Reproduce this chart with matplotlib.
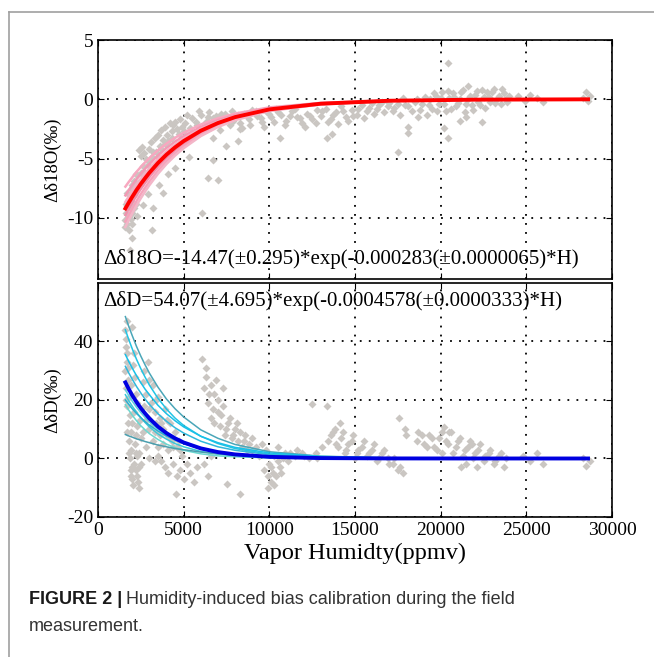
import numpy as np
from matplotlib import pyplot as plt
from matplotlib.lines import Line2D

plt.rcParams['axes.unicode_minus'] = False

# ---- data ----
# top panel: scatter of Delta d18O vs humidity
o18_h = [1600, 1600, 1650, 1650, 1700, 1700, 1750, 1800, 1800, 1850, 1900, 1900, 1950, 2000, 2000,
         2100, 2100, 2200, 2200, 2300, 2300, 2600, 2900,
         2400, 2500, 2550, 2600, 2700, 2800, 2900, 3000, 3100, 3150, 3300, 3400, 3500, 3600, 3700,
         3800, 3900, 4000, 4200, 4300, 4500, 4600, 4800, 4900, 5100,
         1960, 1870, 3130, 3230, 6050, 3800, 3550, 4490, 6720, 6420, 7000, 6720, 7500, 8180, 8290,
         10600, 4100, 5300,
         5500, 5800, 6000, 6300, 6500, 6700, 7000, 7200, 7500, 7800, 8000, 8300, 8500, 8800, 9000,
         9300, 9600, 9800, 10100, 10400, 10700, 11000, 11300, 11600, 11900, 12200, 12500, 12800,
         13000, 13300, 13600, 13900, 14200, 14500, 14800, 15100, 15400, 15700, 16000, 16300, 16600,
         16900, 17200, 17500, 17800, 18100, 18500, 18800, 19100, 19300, 19600, 19800, 20000, 20200,
         20400, 20600, 20800, 21000, 21200, 21400, 21600, 21800, 22000, 22200, 22400, 22600, 22800,
         23000, 23200, 23400, 23600, 23800, 24000,
         20400, 21600, 17500, 18100, 18100, 20400, 20200, 18700, 21100, 21500, 22400, 13650, 13360,
         24500, 24900, 25200, 25600, 26000, 28300, 28500, 28600, 28700,
         5200, 5400, 5700, 5900, 6200, 6400, 6600, 6900, 7100, 7400, 7700, 7900, 8200, 8400, 8700,
         8900, 9200, 9500, 9700, 10000, 10300, 10500, 10900, 11200, 11500, 11800, 12100, 12400,
         12700, 13100,
         13400, 13700, 14000, 14300, 14600, 14900, 15200, 15500, 15800, 16100, 16400, 16700, 17000,
         17300, 17600, 17900, 18300, 18600, 18900, 19200,
         19400, 19500, 19700, 19900, 20100, 20300, 20500, 20700, 20900, 21100, 21300, 21500, 21700,
         21900, 22100, 22300, 22500, 22700, 22900, 23100, 23300, 23500, 23700, 23900,
         1700, 1800, 1900, 2000, 2100, 2200, 2400, 2500, 2600, 2700, 2800, 3000, 3200, 3300, 3500,
         3700, 3900, 4100, 4300, 4400, 4700, 5000]
o18_v = [-10.8, -10.2, -9.6, -8.8, -10.5, -7.9, -9.9, -8.4, -11.0, -9.2, -7.6, -10.1, -8.9, -7.2, -9.6,
         -8.1, -6.9, -7.5, -8.8, -6.4, -9.8, -8.9, -8.0,
         -4.3, -4.8, -4.0, -5.6, -6.1, -5.0, -5.5, -4.2, -3.6, -4.9, -3.3, -4.4, -3.0, -3.9, -2.6,
         -3.4, -2.3, -3.0, -2.0, -2.7, -1.9, -2.5, -1.7, -2.3, -2.0,
         -11.7, -12.7, -11.0, -9.2, -9.6, -7.9, -7.2, -5.8, -5.1, -6.6, -6.8, -3.3, -3.9, -3.5, -2.5,
         -3.3, -6.3, -4.9,
         -1.6, -2.2, -1.3, -1.9, -1.1, -1.6, -2.1, -1.2, -1.7, -1.0, -1.5, -2.0, -1.2, -1.7, -0.9,
         -1.4, -1.9, -1.0, -1.5, -0.8, -1.3, -1.8, -1.0, -1.5, -2.0, -1.2, -1.7, -0.9,
         -1.4, -0.8, -1.7, -1.1, -0.6, -1.5, -0.9, -1.3, -0.5, -1.0, -0.3, -0.8, -0.2,
         -0.6, -1.0, -0.4, 0.1, -0.6, -0.2, -0.9, 0.2, -0.5, 0.5, -1.0, 0.1, -0.4,
         0.7, -0.8, 0.2, -0.3, 0.6, -1.1, 0.0, -0.5, 0.4, -0.2, 0.8, -0.7, 0.2,
         0.6, -0.3, 0.3, 0.9, 0.0, 0.3,
         3.1, 1.1, -4.4, -2.3, -2.8, -3.3, -2.4, -1.5, -1.8, -1.5, -1.9, -2.9, -3.3,
         0.3, -0.1, 0.4, 0.1, -0.2, 0.1, 0.6, -0.1, 0.3,
         -1.3, -2.4, -1.9, -1.0, -2.5, -1.5, -2.3, -1.4, -2.6, -1.2, -2.2, -1.8, -1.3, -2.4, -1.4,
         -2.2, -1.0, -1.6, -2.3, -1.2, -1.9, -1.1, -2.2, -1.4, -0.8, -1.6, -2.3, -1.4,
         -2.0, -1.0,
         -1.9, -1.3, -2.1, -1.0, -1.8, -1.4, -0.8, -1.6, -0.7, -1.2, -0.5, -1.1, -0.3,
         -0.7, -1.3, -0.5, -1.0, 0.0, -0.4, -1.3,
         0.0, -0.8, 0.3, -0.4, 0.6, -1.0, 0.1, 0.5, -0.6, 0.0, 0.8, -0.4, 0.3,
         -0.9, 0.7, -0.5, 0.2, 0.6, -0.2, 0.9, 0.0, -0.4, 0.5, -0.2,
         -9.0, -9.8, -8.6, -10.5, -9.2, -6.3, -7.0, -6.2, -6.8, -4.5, -6.5, -5.2, -4.4, -5.5, -4.9,
         -4.2, -3.8, -3.5, -3.3, -2.2, -2.9, -2.7]

# bottom panel: scatter of Delta dD vs humidity
dd_h = [1600, 1650, 1700, 1600, 1750, 1650, 1800, 1700, 1850, 1750, 1900, 1800, 1950, 1850, 2000,
        1900, 2050, 2000, 2100, 2150, 2200, 2100, 2250, 2150, 2300, 2200, 2350, 2400, 2300, 2450,
        2500, 2400, 2500,
        2700, 2900, 3000, 3200, 2800, 3100, 3300, 3500, 3400, 3600, 3800, 3900, 4000, 4200, 4300,
        4500, 4600, 4800, 3000, 3200, 3500, 2900,
        3700, 3900, 4100, 4400, 4600, 4800, 5000, 5200, 5400, 5600, 5800, 4570, 6200, 6400, 6600,
        6100, 6300, 6200, 6500, 6400, 6700, 6600, 6800, 7000, 7200, 7100, 7400, 7600, 7800, 8000,
        8200, 8400, 8600, 8800, 9000, 7300, 6900, 7510, 8280,
        9800, 10000, 10200, 10100, 10400, 10600, 10300, 10800, 10500, 9900, 11200, 11600, 12000,
        12470, 13340, 12800,
        14120, 13830, 13600, 13900, 14200, 14500, 14800, 15100, 15400, 15700, 16000, 16300, 16600,
        16900, 17200, 17500, 17800, 17560, 17900, 18000,
        18600, 18900, 19200, 19500, 19800, 20100, 20200, 20400, 20700, 21000, 21300, 21600, 21900,
        22200, 22500, 22800, 23100, 23400, 23700, 20500, 21200, 21800,
        24800, 25200, 25600, 26000, 28300, 28500, 28700,
        1650, 1700, 1750, 1650, 1700, 1800, 1900, 2000, 2100, 2200, 2300, 2400, 2200, 2000, 1900,
        2050, 1700,
        2600, 2700, 2800, 3000, 3100, 3300, 3400, 3600, 3700, 3800, 4000, 4100, 4200, 4400, 4700,
        4900, 2600, 2800, 3000, 3300, 3500,
        6300, 6600, 6800, 7000, 7300, 7500, 7700, 7900, 8100, 8300, 8500, 8700, 9000, 9200, 9400,
        9600,
        9700, 9900, 10100, 10300, 10500, 10700, 10900, 11100,
        11500, 11900, 12300, 12700, 13100, 13400, 13700, 14000, 14300, 14600, 14900, 15200, 15500,
        15800, 16100, 16400, 16700, 17000, 17300, 17600, 14400, 15000,
        18700, 19000, 19300, 19600, 19900, 20100, 20300, 20600, 20900, 21100, 21400, 21700, 22000,
        22300, 22600, 22900, 23200, 23500, 23800, 21500, 22100]
dd_v = [44, 38, 33, 30, 27, 24, 21, 18, 15, 12, 9, 6, 3, 0, -3,
        -6, -9, 45, 36, 28, 22, 16, 11, 5, 1, -4, -8, -10, 19, 13,
        7, 2, -2,
        30, 33, 27, 25, 22, 19, 16, 21, 12, 14, 10, 17, 8, 12, 6,
        9, 4, 3, 10, 6, 4, 14,
        -1, -3, -5, -2, -6, -4, -7, -2, -5, -8, -3, -12.3, -2, -6, 1,
        34, 28, 24, 22, 19, 17, 14, 12, 20, 15, 11, 8, 12, 7, 10,
        6, 4, 8, 5, 3, 24, 27, -8.7, -12,
        3, -2, -5, -8, -6, -3, 1, 0, 4, -10, 2, 3, 1,
        18.7, 18, 0,
        12.3, 10, 8, 5, 7, 3, 6, 2, 4, 1, 3, -1, 2,
        0, -2, -4, -5, 13.9, 10, 8,
        6, 8, 4, 7, 3, 9, 10.6, 5, 2, 6, 1, 4, 0,
        3, -1, 2, -2, 1, -3, 9.2, -3, 5,
        1, -1, 2, -2, 0, -2.5, -1,
        41, 36, 31, 20, 9, 2, -4, -7, -2, 8, -6, -3, 2, 12, 25,
        32, 47,
        26, 18, 13, 17, 11, 9, 20, 8, 12, 5, 13, 3, 7, 4, 6,
        1, 9, 4, 0, -1, 1,
        31, 25, 22, 16, 18, 10, 14, 8, 12, 9, 6, 3, 7, 4, 1,
        5,
        -4, -6, -3, -9, -1, -5, 2, -1,
        1, 2, 0, 2, 4, 6, 9, 4, 9, 5, 8, 3, 6,
        2, 5, 0, 3, -2, 0, -3, 2, 0,
        9, 5, 8, 4, 7, 2, 6, 9, 4, 7, 3, 6, 2,
        5, 1, 3, -1, 2, 0, -2, -3]

# fitted curves (main fit and the ensemble of fits)
fit_h = [1600, 1800, 2000, 2250, 2500, 2750, 3000, 3500, 4000, 4500, 5000, 6000, 7000, 8000,
         10000, 13000, 17000]
main_h = fit_h + [22000, 28600]
o18_fit = [-9.20, -8.70, -8.22, -7.65, -7.13, -6.65, -6.19, -5.37, -4.66, -4.05, -3.52, -2.65,
           -2.00, -1.50, -0.85, -0.37, -0.12, -0.03, 0.0]
o18_ens = [
    [-7.36, -6.96, -6.58, -6.12, -5.70, -5.32, -4.95, -4.30, -3.73, -3.24, -2.82, -2.12, -1.60, -1.20, -0.68, -0.30, -0.10],
    [-8.10, -7.66, -7.23, -6.73, -6.27, -5.85, -5.45, -4.73, -4.10, -3.56, -3.10, -2.33, -1.76, -1.32, -0.75, -0.33, -0.11],
    [-8.65, -8.18, -7.73, -7.19, -6.70, -6.25, -5.82, -5.05, -4.38, -3.81, -3.31, -2.49, -1.88, -1.41, -0.80, -0.35, -0.11],
    [-9.75, -9.22, -8.71, -8.11, -7.56, -7.05, -6.56, -5.69, -4.94, -4.29, -3.73, -2.81, -2.12, -1.59, -0.90, -0.39, -0.13],
    [-10.30, -9.74, -9.21, -8.57, -7.99, -7.45, -6.93, -6.01, -5.22, -4.54, -3.94, -2.97, -2.24, -1.68, -0.95, -0.41, -0.13],
    [-10.76, -10.18, -9.62, -8.95, -8.34, -7.78, -7.24, -6.28, -5.45, -4.74, -4.12, -3.10, -2.34, -1.76, -0.99, -0.43, -0.14],
]
dd_fit = [26.0, 23.7, 21.6, 19.3, 17.2, 15.4, 13.7, 10.9, 8.66, 6.89, 5.47, 3.46, 2.19, 1.39,
          0.56, 0.14, 0.02, 0.0, 0.0]
dd_ens = [
    [48.5, 45.1, 42.0, 38.3, 35.0, 32.0, 29.2, 24.4, 20.3, 17.0, 14.2, 9.8, 6.9, 4.8, 2.3, 0.8, 0.2],
    [44.0, 40.6, 37.5, 33.9, 30.7, 27.8, 25.1, 20.6, 16.9, 13.8, 11.3, 7.6, 5.1, 3.4, 1.5, 0.5, 0.1],
    [35.5, 33.1, 30.9, 28.3, 25.9, 23.7, 21.8, 18.2, 15.3, 12.9, 10.8, 7.6, 5.4, 3.8, 1.9, 0.7, 0.2],
    [31.5, 29.2, 27.1, 24.6, 22.4, 20.3, 18.5, 15.3, 12.7, 10.5, 8.7, 5.9, 4.0, 2.8, 1.3, 0.4, 0.1],
    [23.5, 21.5, 19.6, 17.5, 15.7, 14.0, 12.5, 10.0, 8.0, 6.4, 5.1, 3.2, 2.1, 1.3, 0.5, 0.1, 0.0],
    [21.8, 19.7, 17.9, 15.8, 13.9, 12.3, 10.8, 8.4, 6.6, 5.1, 4.0, 2.4, 1.5, 0.9, 0.3, 0.1, 0.0],
    [20.0, 18.5, 17.0, 15.4, 14.0, 12.6, 11.4, 9.4, 7.7, 6.3, 5.1, 3.4, 2.3, 1.5, 0.7, 0.2, 0.0],
    [18.4, 16.5, 14.8, 12.9, 11.2, 9.8, 8.5, 6.5, 4.9, 3.7, 2.8, 1.6, 0.9, 0.6, 0.2, 0.0, 0.0],
    [8.2, 7.7, 7.3, 6.7, 6.3, 5.8, 5.4, 4.6, 4.0, 3.4, 3.0, 2.2, 1.6, 1.2, 0.7, 0.3, 0.1],
]
o18_ens_colors = ['#f7a8c0', '#f29ab5', '#f5b0c4', '#ef92ae', '#f6a2bb', '#f3b6c8']
dd_ens_colors = ['#4aa6b8', '#22c4e4', '#18c0e8', '#30b8dc', '#5ed0e0', '#3cc8d8',
                 '#2ab0d0', '#6ad8d0', '#4a9eae']

o18_text = '\u0394\u03b418O=-14.47(\u00b10.295)*exp(-0.000283(\u00b10.0000065)*H)'
dd_text = '\u0394\u03b4D=54.07(\u00b14.695)*exp(-0.0004578(\u00b10.0000333)*H)'

serif = ['Liberation Serif', 'DejaVu Serif']
pt_grey = '#cac6c2'


def style_ax(ax, ylim, yticks):
    ax.set_xlim(0, 30000)
    ax.set_ylim(*ylim)
    ax.set_xticks([0, 5000, 10000, 15000, 20000, 25000, 30000])
    ax.set_yticks(yticks)
    ax.grid(True, color='black', linestyle=(0, (1, 4)), linewidth=1.3)
    ax.tick_params(direction='in', length=4, top=True, right=True, labelsize=14)
    for lab in ax.get_xticklabels() + ax.get_yticklabels():
        lab.set_family(serif)
    for sp in ax.spines.values():
        sp.set_linewidth(1.2)


fig = plt.figure(figsize=(6.54, 6.57), dpi=100)

# frame lines around the figure area
fig.add_artist(Line2D([0.0138, 1.0], [0.9817, 0.9817], color='#a0a0a0', lw=1.2))
fig.add_artist(Line2D([0.0138, 0.0138], [0.0, 0.9817], color='#a0a0a0', lw=1.2))

ax1 = fig.add_axes([0.1498, 0.5753, 0.786, 0.3638])
ax1.plot(o18_h, o18_v, 'D', ms=4, color=pt_grey, mec='none', zorder=2)
for vals, c in zip(o18_ens, o18_ens_colors):
    ax1.plot(fit_h, vals, color=c, lw=1.8, zorder=3)
ax1.plot(main_h, o18_fit, color='#ff0000', lw=2.8, zorder=4)
style_ax(ax1, (-15.15, 5), [-10, -5, 0, 5])
ax1.set_xticklabels([])
ax1.set_ylabel('\u0394\u03b418O(\u2030)', fontsize=13.5, family=serif, labelpad=4)
ax1.text(0.01, 0.04, o18_text, transform=ax1.transAxes, fontsize=15, family=serif,
         va='bottom', ha='left', zorder=6)

ax2 = fig.add_axes([0.1498, 0.2131, 0.786, 0.3562])
ax2.plot(dd_h, dd_v, 'D', ms=4, color=pt_grey, mec='none', zorder=2)
for vals, c in zip(dd_ens, dd_ens_colors):
    ax2.plot(fit_h, vals, color=c, lw=1.1, zorder=3)
ax2.plot(main_h, dd_fit, color='#0000e0', lw=2.8, zorder=4)
style_ax(ax2, (-20, 60), [-20, 0, 20, 40])
ax2.set_xlabel('Vapor Humidty(ppmv)', fontsize=17.5, family=serif, labelpad=3)
ax2.set_ylabel('\u0394\u03b4D(\u2030)', fontsize=13.5, family=serif, labelpad=4)
ax2.text(0.01, 0.965, dd_text, transform=ax2.transAxes, fontsize=15, family=serif,
         va='top', ha='left', zorder=6)

# caption: bold label followed by normal text
sans = ['Liberation Sans', 'DejaVu Sans']
cap_y = 1 - 604 / 657
bold = fig.text(29 / 654, cap_y, 'FIGURE 2 |', fontsize=13, weight='bold', family=sans,
                va='baseline', color='#1a1a1a')
fig.canvas.draw()
bb = bold.get_window_extent(renderer=fig.canvas.get_renderer())
fig.text(bb.x1 / fig.bbox.width + 0.006, cap_y,
         'Humidity-induced bias calibration during the field', fontsize=13, family=sans,
         va='baseline', color='#333333')
fig.text(29 / 654, 1 - 631 / 657, 'measurement.', fontsize=13, family=sans, va='baseline',
         color='#333333')

fig.savefig('out.png', dpi=100)
